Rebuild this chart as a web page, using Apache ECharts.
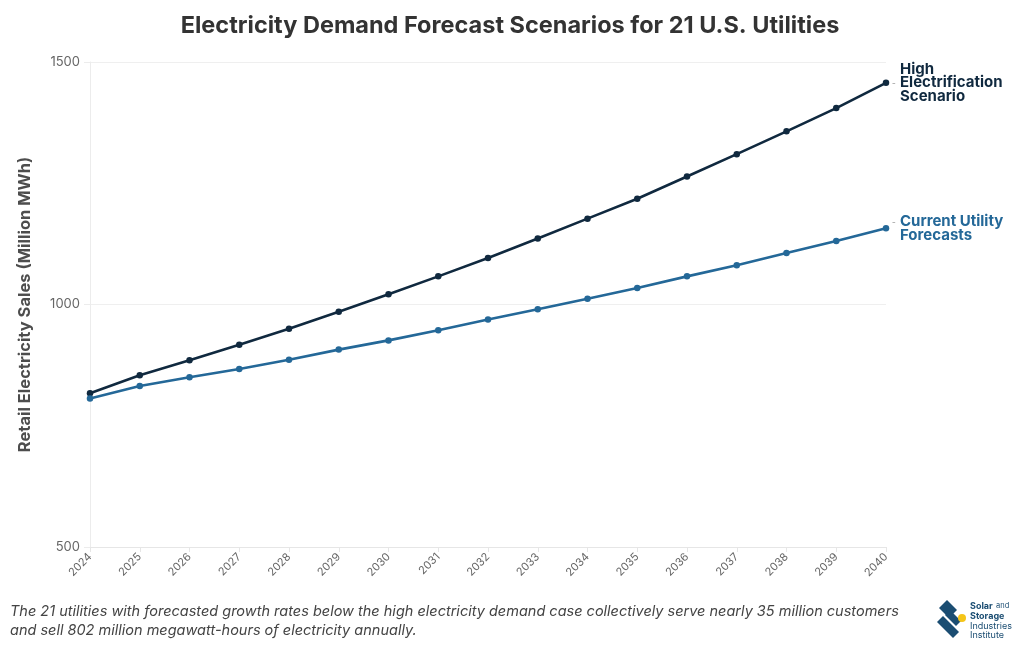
<!DOCTYPE html>
<html>
<head>
<meta charset="utf-8">
<script src="https://cdn.jsdelivr.net/npm/echarts@6/dist/echarts.min.js"></script>
<style>html,body{margin:0;padding:0;background:#fff}#c{width:1020px;height:650px}</style>
</head>
<body>
<div id="c"></div>
<script>
const years = ['2024','2025','2026','2027','2028','2029','2030','2031','2032','2033','2034','2035','2036','2037','2038','2039','2040'];
const highElectrification = [817, 854, 885, 917, 950, 985, 1021, 1058, 1096, 1136, 1177, 1218, 1264, 1310, 1357, 1405, 1457];
const currentForecasts = [806, 832, 850, 867, 886, 907, 926, 947, 969, 990, 1012, 1034, 1058, 1081, 1106, 1131, 1157];
const yTicks = [500, 1000, 1500];

const FONT = 'Inter, "Open Sans", sans-serif';
const chart = echarts.init(document.getElementById('c'));
chart.setOption({
  backgroundColor: '#fff',
  animation: false,
  title: {
    text: 'Electricity Demand Forecast Scenarios for 21 U.S. Utilities',
    left: 'center', top: 9,
    textStyle: {fontFamily: FONT, fontSize: 23.5, fontWeight: 'bold', color: '#333'}
  },
  grid: {left: 90, right: 134, top: 62, bottom: 103},
  xAxis: {
    type: 'category', data: years, boundaryGap: false,
    axisLine: {lineStyle: {color: '#e6e6e6'}},
    axisTick: {show: true, alignWithLabel: true, lineStyle: {color: '#e6e6e6'}},
    axisLabel: {rotate: 45, fontFamily: FONT, fontSize: 11, color: '#666', margin: 8},
    splitLine: {show: false}
  },
  yAxis: {
    type: 'value', min: 500, max: 1500, interval: 500,
    name: 'Retail Electricity Sales (Million MWh)', nameLocation: 'middle', nameGap: 56,
    nameTextStyle: {fontFamily: FONT, fontSize: 16.5, fontWeight: 'bold', color: '#4d4d4d'},
    axisLine: {show: true, lineStyle: {color: '#ececec'}},
    axisTick: {show: true, length: 6, lineStyle: {color: '#ececec'}},
    axisLabel: {fontFamily: FONT, fontSize: 13, color: '#666', margin: 10,
      formatter: v => yTicks.includes(v) ? String(v) : ''},
    splitLine: {lineStyle: {color: '#efefef'}}
  },
  series: [
    {
      name: 'High Electrification Scenario', type: 'line', data: highElectrification,
      symbol: 'circle', symbolSize: 6.5, color: '#10293f',
      lineStyle: {width: 2.6, color: '#10293f'}, itemStyle: {color: '#10293f'},
      endLabel: {show: true, distance: 6, formatter: '{s| }{t|High}\n{d|-}{t|Electrification}\n{s| }{t|Scenario}',
        rich: {d: {color: '#aaa', fontSize: 11, width: 8}, s: {width: 8},
               t: {fontFamily: FONT, fontSize: 15, fontWeight: 'bold', color: '#10293f', lineHeight: 13.5}}}
    },
    {
      name: 'Current Utility Forecasts', type: 'line', data: currentForecasts,
      symbol: 'circle', symbolSize: 6.5, color: '#246898',
      lineStyle: {width: 2.6, color: '#246898'}, itemStyle: {color: '#246898'},
      endLabel: {show: true, distance: 6, formatter: '{d|-}{t|Current Utility}\n{s| }{t|Forecasts}',
        rich: {d: {color: '#aaa', fontSize: 11, width: 8}, s: {width: 8},
               t: {fontFamily: FONT, fontSize: 15, fontWeight: 'bold', color: '#246898', lineHeight: 13.5}}}
    }
  ],
  graphic: [
    {type: 'text', left: 10, top: 602, style: {
      text: 'The 21 utilities with forecasted growth rates below the high electricity demand case collectively serve nearly 35 million customers\nand sell 802 million megawatt-hours of electricity annually.',
      font: 'italic 14.5px ' + FONT, fill: '#444', lineHeight: 19}},
    {type: 'group', left: 937, top: 600, children: [
      {type: 'polygon', shape: {points: [[2,8],[10,0],[20,10],[12,18]]}, style: {fill: '#1b4d72'}},
      {type: 'polygon', shape: {points: [[0,22],[6,16],[22,32],[16,38]]}, style: {fill: '#1b4d72'}},
      {type: 'polygon', shape: {points: [[8,15],[13,10],[24,21],[19,26]]}, style: {fill: '#1b4d72'}},
      {type: 'circle', shape: {cx: 25, cy: 18, r: 4}, style: {fill: '#f5c518'}},
      {type: 'text', x: 33, y: 0, style: {text: '{b|Solar} {s|and}\n{b|Storage}\n{r|Industries}\n{r|Institute}',
        rich: {b: {fontFamily: FONT, fontSize: 9, fontWeight: 'bold', fill: '#1b4d72', lineHeight: 9.5},
               s: {fontFamily: FONT, fontSize: 7.5, fill: '#1b4d72', lineHeight: 9.5},
               r: {fontFamily: FONT, fontSize: 9, fill: '#1b4d72', lineHeight: 9.5}}}}
    ]}
  ]
});
</script>
</body>
</html>
